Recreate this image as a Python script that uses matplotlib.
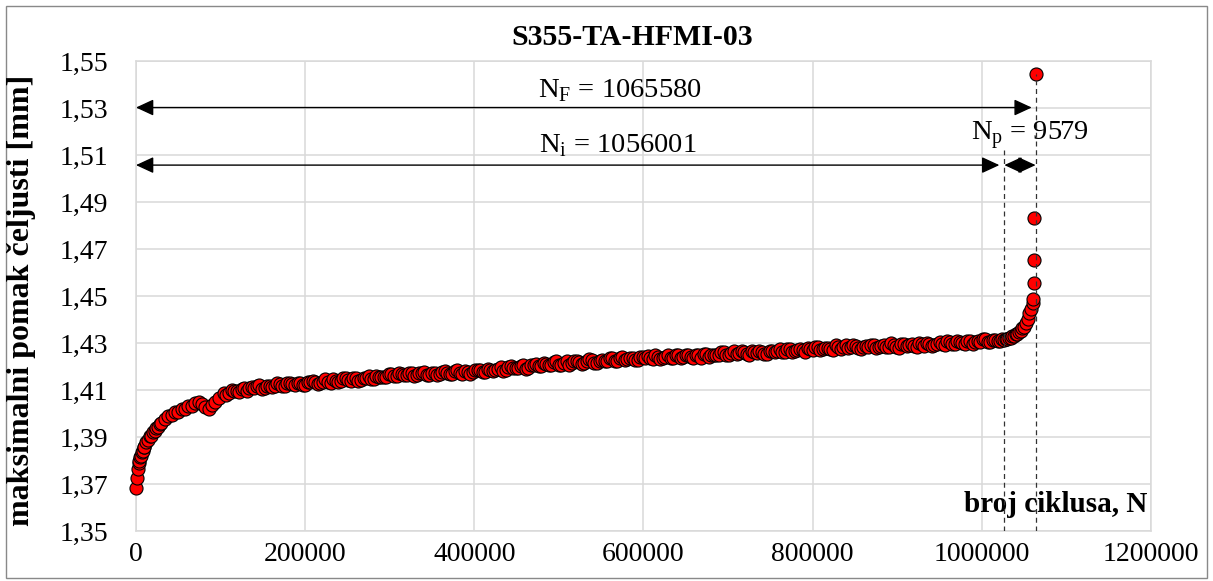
import matplotlib
matplotlib.use("Agg")
import matplotlib.pyplot as plt
from matplotlib.ticker import FuncFormatter, MultipleLocator
from matplotlib.patches import Rectangle

plt.rcParams['font.family'] = ['Liberation Serif', 'DejaVu Serif']
plt.rcParams['mathtext.fontset'] = 'custom'
plt.rcParams['mathtext.rm'] = 'Liberation Serif'

# --- data: cycle count N and max jaw displacement [mm] ---
cycles_early = [0, 1000, 2000, 3000, 4000, 5000, 6000, 7000, 8000, 9000, 10000,
                12000, 14000, 16000, 18000, 20000, 22000, 24000, 26000, 28000, 30000,
                34000, 38000, 42000, 46000, 50000, 54000, 58000, 62000, 66000, 70000,
                74000, 78000, 82000, 86000, 90000, 94000, 98000]
disp_early = [1.3682, 1.3724, 1.3762, 1.3788, 1.3797, 1.3814, 1.3819, 1.3834, 1.3841, 1.3856, 1.3859,
              1.3879, 1.3887, 1.3904, 1.3906, 1.3921, 1.3925, 1.3939, 1.3942, 1.3957, 1.3960,
              1.3976, 1.3991, 1.3993, 1.4006, 1.4008, 1.4019, 1.4021, 1.4031, 1.4030, 1.4043,
              1.4047, 1.4041, 1.4027, 1.4019, 1.4037, 1.4050, 1.4068]

cycles_mid = [104000, 110000, 116000, 122000, 128000, 134000, 140000, 146000, 152000, 158000,
              164000, 170000, 176000, 182000, 188000, 194000, 200000, 206000, 212000, 218000,
              224000, 230000, 236000, 242000, 248000, 254000, 260000, 266000, 272000, 278000,
              284000, 290000, 296000, 302000, 308000, 314000, 320000, 326000, 332000, 338000,
              344000, 350000, 356000, 362000, 368000, 374000, 380000, 386000, 392000, 398000,
              404000, 410000, 416000, 422000, 428000, 434000, 440000, 446000, 452000, 458000,
              464000, 470000, 476000, 482000, 488000, 494000, 500000, 506000, 512000, 518000,
              524000, 530000, 536000, 542000, 548000, 554000, 560000, 566000, 572000, 578000,
              584000, 590000, 596000, 602000, 608000, 614000, 620000, 626000, 632000, 638000,
              644000, 650000, 656000, 662000, 668000, 674000, 680000, 686000, 692000, 698000,
              704000, 710000, 716000, 722000, 728000, 734000, 740000, 746000, 752000, 758000,
              764000, 770000, 776000, 782000, 788000, 794000, 800000, 806000, 812000, 818000,
              824000, 830000, 836000, 842000, 848000, 854000, 860000, 866000, 872000, 878000,
              884000, 890000, 896000, 902000, 908000, 914000, 920000, 926000, 932000, 938000,
              944000, 950000, 956000, 962000, 968000, 974000, 980000, 986000, 992000, 998000,
              1004000, 1010000, 1016000, 1022000]
disp_mid = [1.4086, 1.4086, 1.4097, 1.4092, 1.4109, 1.4107, 1.4107, 1.4121, 1.4108, 1.4117,
            1.4116, 1.4127, 1.4117, 1.4130, 1.4122, 1.4130, 1.4122, 1.4136, 1.4133, 1.4131,
            1.4145, 1.4131, 1.4140, 1.4138, 1.4149, 1.4138, 1.4152, 1.4144, 1.4152, 1.4145,
            1.4160, 1.4157, 1.4156, 1.4170, 1.4158, 1.4166, 1.4164, 1.4174, 1.4162, 1.4174,
            1.4165, 1.4172, 1.4162, 1.4176, 1.4172, 1.4170, 1.4183, 1.4170, 1.4178, 1.4177,
            1.4187, 1.4177, 1.4189, 1.4181, 1.4188, 1.4181, 1.4196, 1.4194, 1.4193, 1.4208,
            1.4195, 1.4205, 1.4204, 1.4215, 1.4205, 1.4217, 1.4208, 1.4216, 1.4207, 1.4222,
            1.4218, 1.4216, 1.4230, 1.4216, 1.4225, 1.4223, 1.4234, 1.4223, 1.4236, 1.4227,
            1.4235, 1.4226, 1.4241, 1.4237, 1.4234, 1.4247, 1.4233, 1.4241, 1.4238, 1.4248,
            1.4237, 1.4248, 1.4239, 1.4247, 1.4238, 1.4253, 1.4249, 1.4248, 1.4261, 1.4248,
            1.4256, 1.4255, 1.4265, 1.4254, 1.4265, 1.4256, 1.4263, 1.4254, 1.4268, 1.4264,
            1.4262, 1.4275, 1.4262, 1.4270, 1.4269, 1.4279, 1.4269, 1.4281, 1.4273, 1.4280,
            1.4271, 1.4285, 1.4281, 1.4279, 1.4292, 1.4277, 1.4285, 1.4282, 1.4292, 1.4281,
            1.4292, 1.4283, 1.4290, 1.4280, 1.4294, 1.4290, 1.4288, 1.4300, 1.4286, 1.4294,
            1.4292, 1.4303, 1.4292, 1.4305, 1.4296, 1.4304, 1.4295, 1.4310, 1.4306, 1.4305,
            1.4318, 1.4304, 1.4312, 1.4310]

cycles_mid_b = [107000, 113000, 119000, 125000, 131000, 137000, 143000, 149000, 155000, 161000,
                167000, 173000, 179000, 185000, 191000, 197000, 203000, 209000, 215000, 221000,
                227000, 233000, 239000, 245000, 251000, 257000, 263000, 269000, 275000, 281000,
                287000, 293000, 299000, 305000, 311000, 317000, 323000, 329000, 335000, 341000,
                347000, 353000, 359000, 365000, 371000, 377000, 383000, 389000, 395000, 401000,
                407000, 413000, 419000, 425000, 431000, 437000, 443000, 449000, 455000, 461000,
                467000, 473000, 479000, 485000, 491000, 497000, 503000, 509000, 515000, 521000,
                527000, 533000, 539000, 545000, 551000, 557000, 563000, 569000, 575000, 581000,
                587000, 593000, 599000, 605000, 611000, 617000, 623000, 629000, 635000, 641000,
                647000, 653000, 659000, 665000, 671000, 677000, 683000, 689000, 695000, 701000,
                707000, 713000, 719000, 725000, 731000, 737000, 743000, 749000, 755000, 761000,
                767000, 773000, 779000, 785000, 791000, 797000, 803000, 809000, 815000, 821000,
                827000, 833000, 839000, 845000, 851000, 857000, 863000, 869000, 875000, 881000,
                887000, 893000, 899000, 905000, 911000, 917000, 923000, 929000, 935000, 941000,
                947000, 953000, 959000, 965000, 971000, 977000, 983000, 989000, 995000, 1001000,
                1007000, 1013000, 1019000]
disp_mid_b = [1.4080, 1.4101, 1.4097, 1.4106, 1.4097, 1.4112, 1.4117, 1.4106, 1.4116, 1.4114,
              1.4129, 1.4116, 1.4131, 1.4124, 1.4131, 1.4120, 1.4133, 1.4138, 1.4127, 1.4136,
              1.4134, 1.4148, 1.4135, 1.4149, 1.4142, 1.4149, 1.4138, 1.4152, 1.4158, 1.4147,
              1.4157, 1.4155, 1.4170, 1.4158, 1.4173, 1.4165, 1.4171, 1.4158, 1.4171, 1.4175,
              1.4163, 1.4171, 1.4168, 1.4182, 1.4168, 1.4182, 1.4174, 1.4181, 1.4169, 1.4183,
              1.4187, 1.4176, 1.4185, 1.4183, 1.4198, 1.4185, 1.4201, 1.4194, 1.4202, 1.4191,
              1.4206, 1.4211, 1.4200, 1.4210, 1.4208, 1.4222, 1.4208, 1.4223, 1.4215, 1.4222,
              1.4210, 1.4223, 1.4228, 1.4216, 1.4226, 1.4223, 1.4238, 1.4224, 1.4239, 1.4231,
              1.4238, 1.4226, 1.4240, 1.4243, 1.4231, 1.4240, 1.4237, 1.4250, 1.4236, 1.4250,
              1.4241, 1.4247, 1.4235, 1.4249, 1.4253, 1.4242, 1.4251, 1.4249, 1.4263, 1.4250,
              1.4264, 1.4257, 1.4263, 1.4250, 1.4263, 1.4267, 1.4255, 1.4264, 1.4261, 1.4275,
              1.4261, 1.4275, 1.4268, 1.4274, 1.4263, 1.4276, 1.4281, 1.4269, 1.4279, 1.4276,
              1.4290, 1.4276, 1.4290, 1.4282, 1.4287, 1.4275, 1.4287, 1.4291, 1.4279, 1.4287,
              1.4284, 1.4298, 1.4283, 1.4297, 1.4289, 1.4295, 1.4282, 1.4295, 1.4299, 1.4287,
              1.4296, 1.4294, 1.4308, 1.4295, 1.4309, 1.4302, 1.4308, 1.4297, 1.4310, 1.4315,
              1.4303, 1.4312, 1.4309]

cycles_late = [1024000, 1026000, 1028000, 1030000, 1032000, 1034000, 1036000, 1038000,
               1040000, 1042000, 1044000, 1046000, 1048000, 1050000, 1052000, 1054000,
               1056000, 1058000, 1060000, 1061000, 1061500, 1062000, 1062200, 1063600]
disp_late = [1.4316, 1.4312, 1.4319, 1.4316, 1.4323, 1.4321, 1.4329, 1.4328,
             1.4337, 1.4338, 1.4348, 1.4350, 1.4362, 1.4368, 1.4386, 1.4404,
             1.4426, 1.4444, 1.4471, 1.4487, 1.4556, 1.4652, 1.4831, 1.5444]

pairs = sorted(zip(cycles_early + cycles_mid + cycles_mid_b + cycles_late,
                   disp_early + disp_mid + disp_mid_b + disp_late))
cycles = [p[0] for p in pairs]
disp = [p[1] for p in pairs]

# annotation positions (cycles)
n_start = 0
n_init_line = 1026600
n_fail_line = 1063600
n_f_tip = 1059000
n_i_tip = 1020700

fig = plt.figure(figsize=(12.13, 5.81), dpi=100)
ax = fig.add_axes([0.1121, 0.0861, 0.8368, 0.8089])

grid_c = '#d9d9d9'
ax.set_xlim(0, 1200000)
ax.set_ylim(1.35, 1.55)
ax.xaxis.set_major_locator(MultipleLocator(200000))
ax.yaxis.set_major_locator(MultipleLocator(0.02, offset=0.01))
ax.xaxis.set_major_formatter(FuncFormatter(lambda v, p: f"{v:.0f}"))
ax.yaxis.set_major_formatter(FuncFormatter(lambda v, p: f"{v:.2f}".replace('.', ',')))
ax.grid(True, color=grid_c, lw=1.1, zorder=0)
ax.set_axisbelow(True)
for s in ax.spines.values():
    s.set_color(grid_c)
    s.set_linewidth(1.1)
ax.tick_params(axis='both', length=0, labelsize=20, colors='black')
ax.tick_params(axis='y', pad=20)
ax.tick_params(axis='x', pad=8)

ax.plot(cycles, disp, linestyle='none', marker='o', ms=9.4, mfc='#ff0000',
        mec='black', mew=0.8, zorder=3, clip_on=False)

# dashed guide lines
ax.plot([n_init_line, n_init_line], [1.35, 1.5121], ls=(0, (4, 3)), color='#333333', lw=0.9, zorder=4)
ax.plot([n_fail_line, n_fail_line], [1.35, 1.5444], ls=(0, (4, 3)), color='#333333', lw=0.9, zorder=4)

arrow_style = '<|-|>,head_length=1.08,head_width=0.5'
aprops = dict(arrowstyle=arrow_style, mutation_scale=10, color='black', lw=1.0,
              shrinkA=0, shrinkB=0)
ax.annotate('', xy=(n_f_tip, 1.5302), xytext=(n_start, 1.5302), arrowprops=aprops, zorder=5)
ax.annotate('', xy=(n_i_tip, 1.5057), xytext=(n_start, 1.5057), arrowprops=aprops, zorder=5)
ax.annotate('', xy=(n_fail_line, 1.5057), xytext=(n_init_line, 1.5057), arrowprops=aprops, zorder=5)

ax.text(572200, 1.5347, r'N$_\mathrm{F}$ = 1065580', ha='center', va='baseline', fontsize=20.5)
ax.text(569000, 1.5114, r'N$_\mathrm{i}$ = 1056001', ha='center', va='baseline', fontsize=20.5)
ax.text(1057000, 1.5164, r'N$_\mathrm{p}$ = 9579', ha='center', va='baseline', fontsize=20.5)

ax.text(0.9961, 0.0404, 'broj ciklusa, N', transform=ax.transAxes, ha='right',
        va='baseline', fontsize=21, fontweight='bold')

fig.text(0.521, 0.936, 'S355-TA-HFMI-03', ha='center', va='center', fontsize=21.5, fontweight='bold')
fig.text(0.018, 0.4836, 'maksimalni pomak čeljusti [mm]', rotation=90, ha='center', va='center',
         fontsize=23, fontweight='bold')

fig.patches.append(Rectangle((6 / 1213, 3 / 581), 1201 / 1213, 572 / 581, transform=fig.transFigure,
                             fill=False, edgecolor='#898989', lw=1.0))

fig.savefig('out.png', dpi=100)
